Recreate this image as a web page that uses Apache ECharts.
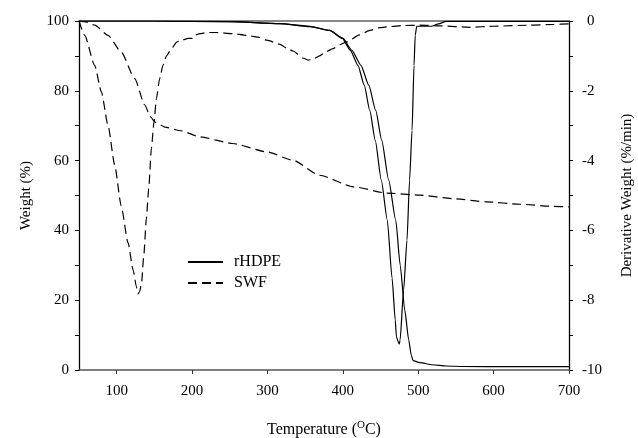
<!DOCTYPE html>
<html><head><meta charset="utf-8">
<script src="https://cdn.jsdelivr.net/npm/echarts@6/dist/echarts.min.js"></script>
<style>html,body{margin:0;padding:0;background:#fff}#c{width:638px;height:438px}</style>
</head><body><div id="c"></div>
<script>
// ---- data ----
const xTicks = [100, 200, 300, 400, 500, 600, 700];

const hdpeWeightT = [50, 150, 250, 316, 356, 382.5, 400, 412, 424, 434.4, 443.6, 451.6, 460.8, 470.2, 476.1, 482.1, 487.4, 490.7, 493.1, 502, 519, 537, 560, 621, 700];
const hdpeWeight  = [100, 100, 99.8, 99.25, 98.4, 97.3, 95.1, 91.6, 87.3, 81.6, 74.4, 65.8, 54.4, 42.9, 30, 17.2, 8.6, 4.3, 2.7, 2.1, 1.5, 1.15, 1.0, 0.95, 0.95];

const hdpeDerivT = [50, 150, 250, 316, 356, 382.5, 399.3, 410, 420, 428.4, 435.7, 443, 451, 459, 465.3, 469.5, 471.1, 473.5, 474.8, 475.9, 480.6, 485.1, 488.5, 491.8, 494.4, 496, 498, 517.5, 527, 537, 600, 700];
const hdpeDeriv  = [0, 0, -0.02, -0.074, -0.15, -0.27, -0.5, -0.84, -1.27, -1.84, -2.56, -3.42, -4.56, -5.71, -7.37, -8.57, -9.05, -9.2, -9.26, -9.15, -7.71, -6.28, -4.56, -3.13, -1.27, -0.41, -0.15, -0.15, -0.08, -0.01, -0.01, -0.01];

const swfWeightT = [50, 60, 71, 88.5, 106, 124, 137, 145, 151, 164, 186, 210, 254, 299, 334, 369, 414, 458, 502, 546, 590, 635, 679, 700];
const swfWeight  = [100, 99.7, 98.8, 95.9, 91.1, 83.5, 76, 72.5, 71, 69.6, 68.5, 66.8, 64.9, 62.5, 60.1, 55.8, 52.5, 50.7, 50.1, 49.1, 48.2, 47.5, 46.9, 46.7];

const swfDerivT = [50, 57.6, 70.8, 79.7, 88.5, 97.4, 106, 115, 122, 126, 128.3, 130.5, 133, 136, 139.4, 142.5, 146, 149.5, 152.7, 157, 161.4, 166, 172.6, 180, 185.8, 195, 201, 205, 210, 220, 232, 254, 272, 290, 299, 316, 325, 334, 347, 354, 360, 369, 378, 387, 396, 405, 422, 436, 449, 462, 480, 502, 530, 568, 600, 648, 679, 700];
const swfDeriv  = [0, -0.41, -1.27, -2.03, -2.99, -4.13, -5.3, -6.35, -7.15, -7.6, -7.82, -7.75, -7.5, -6.7, -5.65, -4.8, -3.65, -2.9, -2.22, -1.65, -1.27, -1.0, -0.79, -0.6, -0.55, -0.5, -0.5, -0.4, -0.36, -0.33, -0.33, -0.36, -0.41, -0.47, -0.55, -0.66, -0.77, -0.86, -1.06, -1.12, -1.1, -1.0, -0.88, -0.79, -0.68, -0.6, -0.4, -0.27, -0.19, -0.16, -0.13, -0.12, -0.14, -0.18, -0.15, -0.12, -0.1, -0.08];

const legendNames = ['rHDPE', 'SWF'];

// ---- chart ----
function pairs(t, v) { return t.map((x, i) => [x, v[i]]); }
const FONT = "'Liberation Serif', 'Times New Roman', serif";
const chart = echarts.init(document.getElementById('c'), null, {renderer: 'canvas'});

const solid = {color: '#000', width: 1.2, type: 'solid'};
const dashed = {color: '#000', width: 1.2, type: [9, 5]};
function line(name, data, yIdx, style) {
  return {
    name: name, type: 'line', xAxisIndex: 0, yAxisIndex: yIdx, data: data,
    symbol: 'none', showSymbol: false, smooth: 0.2, smoothMonotone: 'x',
    lineStyle: style, itemStyle: {color: '#000'}, z: 3
  };
}

chart.setOption({
  animation: false,
  backgroundColor: '#fff',
  grid: {left: 79, right: 69, top: 21, bottom: 68, containLabel: false, outerBoundsMode: 'none'},
  legend: {
    data: legendNames, orient: 'vertical', left: 187, top: 254, padding: 0,
    itemWidth: 35, itemHeight: 14, itemGap: 5,
    itemStyle: {opacity: 0},
    textStyle: {fontFamily: FONT, fontSize: 16, color: '#000', padding: [0, 0, 0, 6]}
  },
  xAxis: [{
    type: 'value', min: 50, max: 700, position: 'bottom',
    name: 'Temperature ({sup|O}C)', nameLocation: 'middle', nameGap: 50,
    nameTextStyle: {fontFamily: FONT, fontSize: 16, color: '#000', lineHeight: 20,
      rich: {sup: {fontFamily: FONT, fontSize: 11, color: '#000', verticalAlign: 'top', lineHeight: 12}}},
    axisLine: {show: true, onZero: false, lineStyle: {color: '#555', width: 1.5}},
    axisTick: {show: true, length: 4, customValues: xTicks, lineStyle: {color: '#333'}},
    axisLabel: {customValues: xTicks, fontFamily: FONT, fontSize: 15, color: '#000', margin: 14},
    splitLine: {show: false}
  }, {
    type: 'value', min: 50, max: 700, position: 'top',
    axisLine: {show: true, onZero: false, lineStyle: {color: '#888', width: 2}},
    axisTick: {show: false}, axisLabel: {show: false}, splitLine: {show: false}
  }],
  yAxis: [{
    type: 'value', min: 0, max: 100, interval: 10, position: 'left',
    name: 'Weight (%)', nameLocation: 'middle', nameGap: 45, nameRotate: 90,
    nameTextStyle: {fontFamily: FONT, fontSize: 15, color: '#000'},
    axisLine: {show: true, onZero: false, lineStyle: {color: '#000', width: 1.3}},
    axisTick: {show: true, length: 4, lineStyle: {color: '#000'}},
    axisLabel: {fontFamily: FONT, fontSize: 15, color: '#000', margin: 10,
      formatter: v => (v % 20 === 0 ? String(v) : '')},
    splitLine: {show: false}
  }, {
    type: 'value', min: -10, max: 0, interval: 1, position: 'right',
    name: 'Derivative Weight (%/min)', nameLocation: 'middle', nameGap: 51, nameRotate: 90,
    nameTextStyle: {fontFamily: FONT, fontSize: 15, color: '#000'},
    axisLine: {show: true, onZero: false, lineStyle: {color: '#000', width: 1.3}},
    axisTick: {show: true, length: 4, lineStyle: {color: '#000'}},
    axisLabel: {fontFamily: FONT, fontSize: 15, color: '#000', margin: 13, align: 'left',
      formatter: v => (v % 2 !== 0 ? '' : (v === 0 ? '{z|0}' : String(v))),
      rich: {z: {fontFamily: FONT, fontSize: 15, color: '#000', padding: [0, 0, 0, 5]}}},
    splitLine: {show: false}
  }],
  series: [
    line(legendNames[0], pairs(hdpeWeightT, hdpeWeight), 0, solid),
    line(legendNames[0], pairs(hdpeDerivT, hdpeDeriv), 1, solid),
    line(legendNames[1], pairs(swfWeightT, swfWeight), 0, dashed),
    line(legendNames[1], pairs(swfDerivT, swfDeriv), 1, dashed)
  ]
});
</script>
</body></html>
